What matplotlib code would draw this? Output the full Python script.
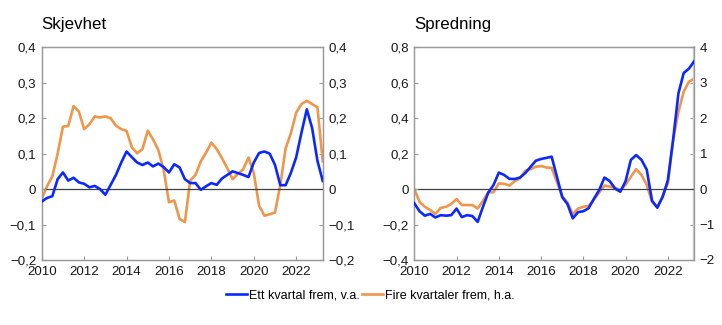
import matplotlib.pyplot as plt
import numpy as np
from matplotlib.ticker import FuncFormatter

plt.rcParams["font.family"] = ["Liberation Sans", "DejaVu Sans"]

BLUE = "#0A28FF"
ORANGE = "#F0964B"
GREY = "#9A9A9A"

# quarterly observations, 2010 Q1 - 2023 Q2
quarters = 2010 + np.arange(54) / 4

skew_one_q = [
    -0.035, -0.025, -0.02, 0.028, 0.047, 0.024, 0.032, 0.019, 0.015, 0.005,
    0.009, 0.0, -0.016, 0.012, 0.04, 0.075, 0.106, 0.09, 0.075, 0.068,
    0.075, 0.064, 0.072, 0.062, 0.047, 0.07, 0.061, 0.028, 0.017, 0.017,
    -0.002, 0.008, 0.017, 0.012, 0.03, 0.04, 0.05, 0.045, 0.04, 0.034,
    0.075, 0.102, 0.106, 0.1, 0.068, 0.011, 0.011, 0.046, 0.09, 0.16,
    0.225, 0.172, 0.08, 0.023,
]
skew_four_q = [
    -0.028, 0.008, 0.036, 0.1, 0.176, 0.178, 0.234, 0.219, 0.169, 0.183,
    0.205, 0.202, 0.205, 0.2, 0.179, 0.169, 0.164, 0.118, 0.101, 0.113,
    0.165, 0.14, 0.11, 0.054, -0.037, -0.032, -0.084, -0.093, 0.024, 0.04,
    0.078, 0.103, 0.131, 0.113, 0.087, 0.059, 0.028, 0.043, 0.056, 0.089,
    0.045, -0.047, -0.075, -0.071, -0.066, 0.012, 0.115, 0.158, 0.216, 0.24,
    0.249, 0.24, 0.231, 0.078,
]
spread_one_q = [
    -0.08, -0.125, -0.15, -0.14, -0.16, -0.147, -0.15, -0.147, -0.11, -0.158,
    -0.147, -0.152, -0.185, -0.1, -0.02, 0.023, 0.093, 0.08, 0.058, 0.057,
    0.065, 0.09, 0.125, 0.16, 0.17, 0.176, 0.183, 0.07, -0.045, -0.085,
    -0.165, -0.13, -0.125, -0.108, -0.055, -0.005, 0.065, 0.045, 0.003, -0.015,
    0.045, 0.165, 0.192, 0.165, 0.11, -0.065, -0.105, -0.045, 0.05, 0.28,
    0.54, 0.655, 0.68, 0.722,
]
spread_four_q = [
    0.0, -0.36, -0.5, -0.59, -0.7, -0.53, -0.5, -0.42, -0.28, -0.45,
    -0.45, -0.45, -0.55, -0.33, -0.09, -0.09, 0.16, 0.15, 0.1, 0.22,
    0.3, 0.52, 0.56, 0.63, 0.65, 0.61, 0.6, 0.2, -0.2, -0.38,
    -0.71, -0.55, -0.5, -0.47, -0.3, -0.1, 0.1, 0.07, 0.04, -0.03,
    0.12, 0.35, 0.56, 0.4, 0.12, -0.36, -0.5, -0.2, 0.16, 1.38,
    2.18, 2.75, 3.03, 3.12,
]

year_ticks = [2010, 2012, 2014, 2016, 2018, 2020, 2022]


def comma(decimals):
    def fmt(v, _):
        s = f"{v:.{decimals}f}".replace(".", ",").replace("-", "\u2212")
        return "0" if abs(v) < 1e-9 else s
    return FuncFormatter(fmt)


def style_axis(ax):
    for side in ("left", "right", "top", "bottom"):
        ax.spines[side].set_color(GREY)
        ax.spines[side].set_linewidth(0.9)
    ax.tick_params(direction="in", length=3, color=GREY, labelsize=9.6,
                   labelcolor="#1a1a1a", pad=4)


def panel(rect, title, left, right, left_ticks, right_ticks, left_dec, right_dec):
    ax = fig.add_axes(rect)
    ax2 = ax.twinx()
    ax.plot(quarters, left, color=BLUE, lw=1.9, zorder=3)
    ax2.plot(quarters, right, color=ORANGE, lw=1.9, zorder=2)
    ax.axhline(0, color="#404040", lw=0.9, zorder=1)
    ax.set_xlim(2010, 2023.25)
    ax.set_xticks(year_ticks)
    ax.set_ylim(left_ticks[0], left_ticks[-1])
    ax.set_yticks(left_ticks)
    ax2.set_ylim(right_ticks[0], right_ticks[-1])
    ax2.set_yticks(right_ticks)
    ax.yaxis.set_major_formatter(comma(left_dec))
    ax2.yaxis.set_major_formatter(comma(right_dec))
    style_axis(ax)
    style_axis(ax2)
    # blue series drawn above the orange one
    ax.set_zorder(ax2.get_zorder() + 1)
    ax.patch.set_visible(False)
    fig.text(rect[0], 0.925, title, fontsize=12.2, ha="left", va="center")
    return ax, ax2


fig = plt.figure(figsize=(7.22, 3.25), dpi=100)

skew_ticks = [-0.2, -0.1, 0.0, 0.1, 0.2, 0.3, 0.4]
ax_l, _ = panel([0.0578, 0.2, 0.3892, 0.6545], "Skjevhet",
                skew_one_q, skew_four_q, skew_ticks, skew_ticks, 1, 1)
ax_r, ax_r2 = panel([0.5738, 0.2, 0.3878, 0.6545], "Spredning",
                    spread_one_q, spread_four_q,
                    [-0.4, -0.2, 0.0, 0.2, 0.4, 0.6, 0.8],
                    [-2, -1, 0, 1, 2, 3, 4], 1, 0)
ax_r2.spines["right"].set_color("#C8C8C8")
ax_r2.spines["right"].set_linewidth(1.6)

handles = [
    plt.Line2D([], [], color=BLUE, lw=1.9),
    plt.Line2D([], [], color=ORANGE, lw=1.9),
]
fig.legend(handles, ["Ett kvartal frem, v.a.", "Fire kvartaler frem, h.a."],
           loc="center", bbox_to_anchor=(0.513, 0.092), ncol=2, frameon=False,
           fontsize=9.0, handlelength=1.7, handletextpad=0.15, columnspacing=0.2)

fig.savefig("out.png", dpi=100)
